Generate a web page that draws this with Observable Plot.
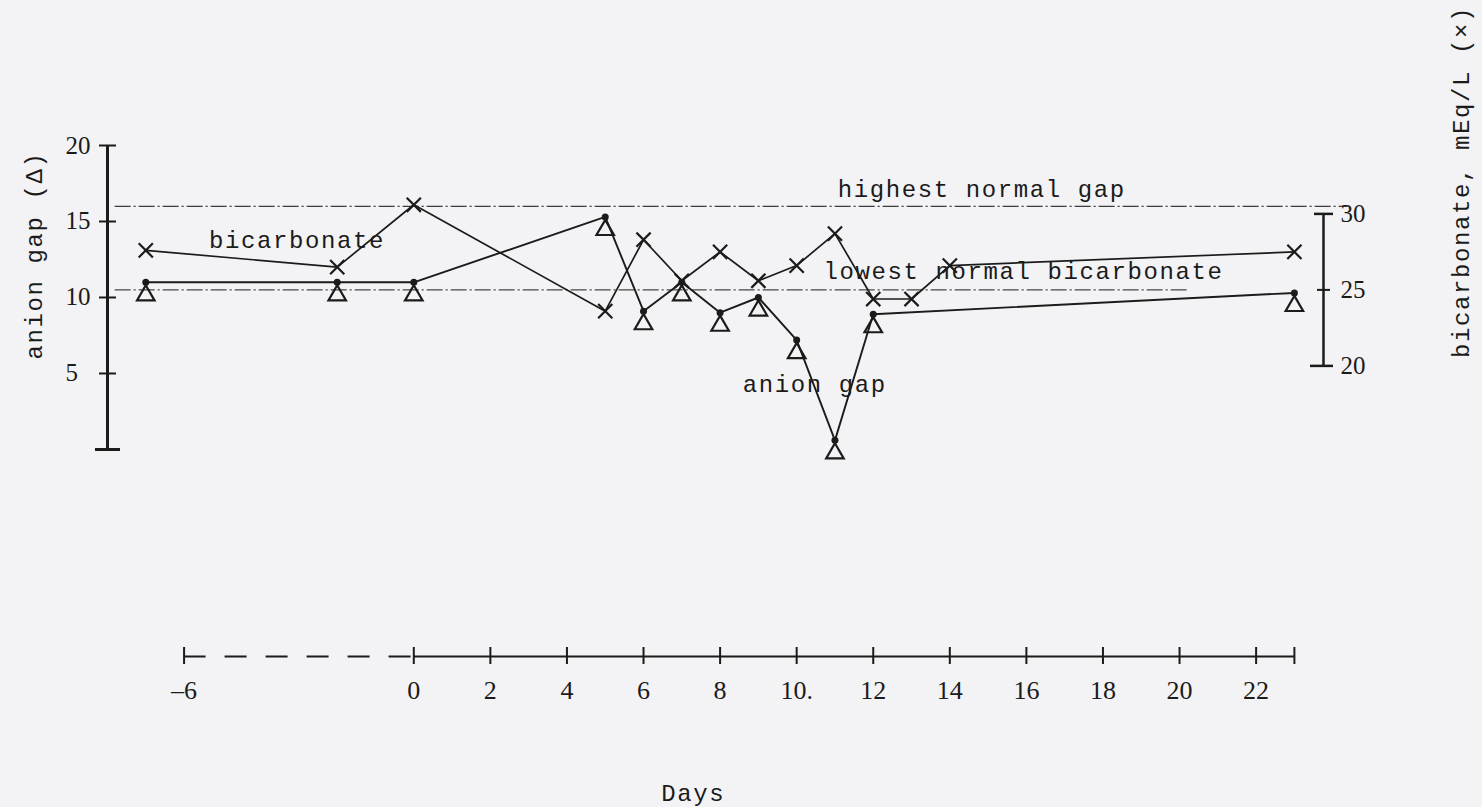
<!DOCTYPE html>
<html>
<head>
<meta charset="utf-8">
<script src="https://cdn.jsdelivr.net/npm/d3@7"></script>
<script src="https://cdn.jsdelivr.net/npm/@observablehq/plot@0.6"></script>
<style>
  html, body { margin: 0; padding: 0; background: #f3f3f5; }
  #chart svg { display: block; }
  g[font-family*="Mono"] text { letter-spacing: 1.6px; }
</style>
</head>
<body>
<div id="chart"></div>
<script>
// ---- data ----
const gapDays      = [-7, -2, 0, 5, 6, 7, 8, 9, 10, 11, 12, 23];
const anionGap     = [11.0, 11.0, 11.0, 15.3, 9.1, 11.0, 9.0, 10.0, 7.2, 0.6, 8.9, 10.3];
const bicarbDays   = [-7, -2, 0, 5, 6, 7, 8, 9, 10, 11, 12, 13, 14, 23];
const bicarbonate  = [27.6, 26.5, 30.6, 23.6, 28.3, 25.6, 27.5, 25.6, 26.6, 28.7, 24.4, 24.4, 26.6, 27.5];
const highestNormalGap = 16;
const lowestNormalBicarbonate = 25;

const dayTicks      = [-6, 0, 2, 4, 6, 8, 10, 12, 14, 16, 18, 20, 22];
const dayTickLabels = ["\u20136", "0", "2", "4", "6", "8", "10.", "12", "14", "16", "18", "20", "22"];
const dayEndTick    = [23];
const gapTicks      = [5, 10, 15, 20];
const bicarbTicks   = [20, 25, 30];

// the right (bicarbonate) axis is the left (gap) axis shifted by this amount
const BICARB_SHIFT = 14.5;

// ---- layout helpers (scale domains) ----
const X0 = -8, X1 = 23.76;       // left axis day, right axis day
const YFLOOR = -13.62;           // level of the day axis
const ink = "#1b1b1b";
const mono = "'Liberation Mono', 'DejaVu Sans Mono', monospace";
const serif = "'Liberation Serif', 'DejaVu Serif', serif";

const gapData = gapDays.map((d, i) => ({day: d, v: anionGap[i]}));
const bicData = bicarbDays.map((d, i) => ({day: d, v: bicarbonate[i] - BICARB_SHIFT}));

const annotations = [
  {text: "bicarbonate", day: -5.35, v: 13.75},
  {text: "highest normal gap", day: 11.07, v: 17.1},
  {text: "lowest normal bicarbonate", day: 10.7, v: 11.7},
  {text: "anion gap", day: 8.59, v: 4.28}
];

const chart = Plot.plot({
  width: 1482,
  height: 807,
  marginLeft: 107,
  marginRight: 159,
  marginTop: 145,
  marginBottom: 151,
  x: {domain: [X0, X1]},
  y: {domain: [YFLOOR, 20]},
  style: {background: "transparent", color: ink, fontFamily: serif, fontSize: "25px", overflow: "visible"},
  marks: [
    // normal-range reference lines
    Plot.ruleY([highestNormalGap], {x1: -7.8, x2: 24.4, stroke: ink, strokeWidth: 1.3, strokeDasharray: "16,3,2,3", strokeOpacity: 0.85}),
    Plot.ruleY([lowestNormalBicarbonate - BICARB_SHIFT], {x1: -7.8, x2: 20.2, stroke: ink, strokeWidth: 1.3, strokeDasharray: "16,3,2,3", strokeOpacity: 0.8}),

    // left axis (anion gap)
    Plot.ruleX([X0], {y1: 0, y2: 20, stroke: ink, strokeWidth: 3}),
    Plot.ruleY(gapTicks, {x1: X0, x2: X0, insetLeft: -8, insetRight: -9, stroke: ink, strokeWidth: 2}),
    Plot.ruleY([0], {x1: X0, x2: X0, insetLeft: -12, insetRight: -13, stroke: ink, strokeWidth: 3}),
    Plot.axisY({anchor: "left", ticks: gapTicks, tickSize: 0, tickPadding: 42, textAnchor: "start", label: null, fontSize: 25, fontFamily: serif}),

    // right axis (bicarbonate)
    Plot.ruleX([X1], {y1: bicarbTicks[0] - BICARB_SHIFT, y2: bicarbTicks[2] - BICARB_SHIFT, stroke: ink, strokeWidth: 2.5}),
    Plot.ruleY([bicarbTicks[2] - BICARB_SHIFT], {x1: X1, x2: X1, insetLeft: -9, insetRight: -10, stroke: ink, strokeWidth: 2.5}),
    Plot.ruleY([bicarbTicks[1] - BICARB_SHIFT], {x1: X1, x2: X1, insetLeft: -6, insetRight: -7, stroke: ink, strokeWidth: 2}),
    Plot.ruleY([bicarbTicks[0] - BICARB_SHIFT], {x1: X1, x2: X1, insetLeft: -13, insetRight: -10, stroke: ink, strokeWidth: 2.5}),
    Plot.axisY({anchor: "right", ticks: bicarbTicks.map(b => b - BICARB_SHIFT), tickFormat: v => String(Math.round(v + BICARB_SHIFT)), tickSize: 0, tickPadding: 17, label: null, fontSize: 25, fontFamily: serif}),

    // day axis
    Plot.ruleY([YFLOOR], {x1: dayTicks[0], x2: 0, stroke: ink, strokeWidth: 2, strokeDasharray: "22,19"}),
    Plot.ruleY([YFLOOR], {x1: 0, x2: dayEndTick[0], stroke: ink, strokeWidth: 2}),
    Plot.ruleX([...dayTicks, ...dayEndTick], {y1: YFLOOR, y2: YFLOOR, insetTop: -9, insetBottom: -8, stroke: ink, strokeWidth: 2}),
    Plot.axisX({anchor: "bottom", ticks: dayTicks, tickFormat: d => dayTickLabels[dayTicks.indexOf(d)], tickSize: 0, tickPadding: 24, label: null, fontSize: 26, fontFamily: serif}),

    // series lines
    Plot.line(bicData, {x: "day", y: "v", stroke: ink, strokeWidth: 1.7}),
    Plot.line(gapData, {x: "day", y: "v", stroke: ink, strokeWidth: 1.9}),

    // markers
    Plot.dot(bicData, {x: "day", y: "v", symbol: "times", r: 6.5, stroke: ink, strokeWidth: 2.2}),
    Plot.dot(gapData, {x: "day", y: "v", r: 3.5, fill: ink}),
    Plot.dot(gapData, {x: "day", y: "v", symbol: "triangle", r: 6.5, dy: 13, fill: "none", stroke: ink, strokeWidth: 2.2}),

    // annotations
    Plot.text(annotations, {x: "day", y: "v", text: "text", textAnchor: "start", fontFamily: mono, fontSize: 24, fill: ink}),

    // axis titles
    Plot.text(["anion gap (\u0394)"], {x: -9.92, y: 12.76, rotate: -90, fontFamily: mono, fontSize: 24, fill: ink}),
    Plot.text(["bicarbonate, mEq/L (\u00d7)"], {x: 27.36, y: 17.6, rotate: -90, fontFamily: mono, fontSize: 24, fill: ink}),
    Plot.text(["Days"], {x: 7.3, y: -22.6, fontFamily: mono, fontSize: 24, fill: ink})
  ]
});

document.getElementById("chart").appendChild(chart);
</script>
</body>
</html>
